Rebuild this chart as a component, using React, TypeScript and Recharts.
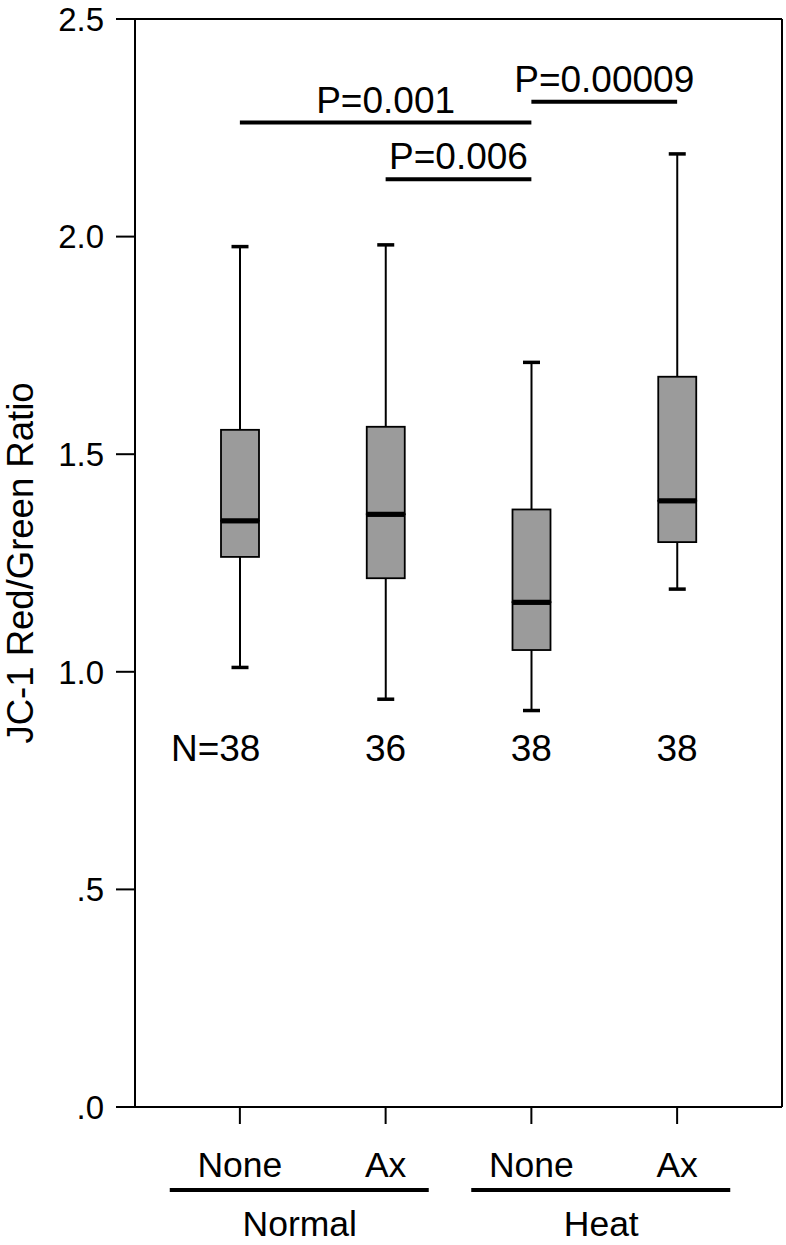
import React from 'react';
import { ComposedChart, Bar, XAxis, YAxis, ReferenceLine, ReferenceDot } from 'recharts';

const categories = ['Normal-None', 'Normal-Ax', 'Heat-None', 'Heat-Ax'];
const subLabels = ['None', 'Ax', 'None', 'Ax'];
const groups = ['Normal', 'Normal', 'Heat', 'Heat'];
const minVals = [1.01, 0.937, 0.911, 1.19];
const q1Vals = [1.264, 1.215, 1.05, 1.298];
const medVals = [1.347, 1.362, 1.16, 1.393];
const q3Vals = [1.556, 1.563, 1.373, 1.678];
const maxVals = [1.977, 1.981, 1.711, 2.19];
const nCounts = [38, 36, 38, 38];
const yTicks = [0, 0.5, 1, 1.5, 2, 2.5];
const pFrom = [0, 1, 2];
const pTo = [2, 2, 3];
const pLevels = [2.262, 2.132, 2.31];
const pLabels = ['P=0.001', 'P=0.006', 'P=0.00009'];
const nLabelLevel = 0.795;

const FONT = '"Liberation Sans", Arial, Helvetica, sans-serif';

const data = categories.map((name, i) => ({
  name,
  sub: subLabels[i],
  group: groups[i],
  base: minVals[i],
  lowW: q1Vals[i] - minVals[i],
  lowBox: medVals[i] - q1Vals[i],
  highBox: q3Vals[i] - medVals[i],
  highW: maxVals[i] - q3Vals[i],
}));

const Empty = () => null;

const LowWhisker = (p: any) => {
  const cx = p.x + p.width / 2;
  const bottom = p.y + p.height;
  return (
    <g>
      <line x1={cx} x2={cx} y1={p.y} y2={bottom} stroke="#000" strokeWidth={2} />
      <line x1={cx - 8.5} x2={cx + 8.5} y1={bottom} y2={bottom} stroke="#000" strokeWidth={3.5} />
    </g>
  );
};

const HighWhisker = (p: any) => {
  const cx = p.x + p.width / 2;
  return (
    <g>
      <line x1={cx} x2={cx} y1={p.y} y2={p.y + p.height} stroke="#000" strokeWidth={2} />
      <line x1={cx - 8.5} x2={cx + 8.5} y1={p.y} y2={p.y} stroke="#000" strokeWidth={3.5} />
    </g>
  );
};

const LowBox = (p: any) => (
  <g>
    <rect x={p.x} y={p.y} width={p.width} height={p.height} fill="#9b9b9b" stroke="#000" strokeWidth={1.8} />
    <line x1={p.x} x2={p.x + p.width} y1={p.y} y2={p.y} stroke="#000" strokeWidth={5} />
  </g>
);

const HighBox = (p: any) => (
  <g>
    <rect x={p.x} y={p.y} width={p.width} height={p.height} fill="#9b9b9b" stroke="#000" strokeWidth={1.8} />
    <line x1={p.x} x2={p.x + p.width} y1={p.y + p.height} y2={p.y + p.height} stroke="#000" strokeWidth={5} />
  </g>
);

const SubTick = (p: any) => {
  const i = categories.indexOf(p.payload.value);
  return (
    <text x={p.x} y={p.y + 53} textAnchor="middle" fontSize={35.5} fontFamily={FONT} fill="#000">
      {subLabels[i]}
    </text>
  );
};

const GroupTick = (p: any) => (
  <g>
    <line x1={p.x - 130} x2={p.x + 129} y1={p.y + 13} y2={p.y + 13} stroke="#000" strokeWidth={4} />
    <text x={p.x} y={p.y + 59} textAnchor="middle" fontSize={35.5} fontFamily={FONT} fill="#000">
      {p.payload.value}
    </text>
  </g>
);

const makePLabel = (text: string) => (props: any) => {
  const vb = props.viewBox || {};
  const x = (vb.x || 0) + (vb.width || 0) / 2;
  const y = Math.min(vb.y || 0, (vb.y || 0) + (vb.height || 0)) - 10;
  return (
    <text x={x} y={y} textAnchor="middle" fontSize={37} fontFamily={FONT} fill="#000">
      {text}
    </text>
  );
};

const fmtY = (v: number) => v.toFixed(1).replace(/^0/, '');

export default function App() {
  return (
    <div style={{ position: 'absolute', left: 0, top: 0, background: '#fff' }}>
      <ComposedChart
        width={786}
        height={1245}
        data={data}
        margin={{ top: 19, right: 0, bottom: 0, left: 0 }}
        barSize={38}
      >
        <XAxis
          dataKey="name"
          xAxisId={0}
          height={70}
          padding={{ left: 32, right: 32 }}
          tickSize={17}
          tickMargin={0}
          axisLine={{ stroke: '#000', strokeWidth: 2 }}
          tickLine={{ stroke: '#000', strokeWidth: 2 }}
          tick={<SubTick />}
          interval={0}
        />
        <XAxis
          dataKey="group"
          xAxisId="grp"
          allowDuplicatedCategory={false}
          height={68}
          padding={{ left: 14, right: 30 }}
          tickSize={0}
          tickMargin={0}
          axisLine={false}
          tickLine={false}
          tick={<GroupTick />}
          interval={0}
        />
        <YAxis
          yAxisId={0}
          width={135}
          domain={[0, 2.5]}
          ticks={yTicks}
          tickFormatter={fmtY}
          tickSize={19}
          tickMargin={12}
          axisLine={{ stroke: '#000', strokeWidth: 2 }}
          tickLine={{ stroke: '#000', strokeWidth: 2 }}
          tick={{ fill: '#000', fontSize: 33, fontFamily: FONT }}
          label={{
            value: 'JC-1 Red/Green Ratio',
            angle: -90,
            position: 'insideLeft',
            offset: 20,
            style: { fill: '#000', fontSize: 36.5, fontFamily: FONT, textAnchor: 'middle' },
          }}
        />
        <YAxis
          yAxisId="right"
          orientation="right"
          width={4}
          domain={[0, 2.5]}
          tick={false}
          tickLine={false}
          axisLine={{ stroke: '#000', strokeWidth: 2 }}
        />
        <ReferenceLine y={2.5} stroke="#000" strokeWidth={2} />
        <Bar dataKey="base" stackId="box" shape={<Empty />} isAnimationActive={false} />
        <Bar dataKey="lowW" stackId="box" shape={<LowWhisker />} isAnimationActive={false} />
        <Bar dataKey="lowBox" stackId="box" shape={<LowBox />} isAnimationActive={false} />
        <Bar dataKey="highBox" stackId="box" shape={<HighBox />} isAnimationActive={false} />
        <Bar dataKey="highW" stackId="box" shape={<HighWhisker />} isAnimationActive={false} />
        {pLabels.map((lab, i) => (
          <ReferenceLine
            key={lab}
            segment={[
              { x: categories[pFrom[i]], y: pLevels[i] },
              { x: categories[pTo[i]], y: pLevels[i] },
            ]}
            stroke="#000"
            strokeWidth={4}
            label={{ position: 'top', content: makePLabel(lab) }}
          />
        ))}
        {categories.map((c, i) => (
          <ReferenceDot
            key={c}
            x={c}
            y={nLabelLevel}
            r={1}
            shape={(p: any) => (
              <g>
                {i === 0 && (
                  <text x={p.cx - 20.5} y={p.cy} textAnchor="end" fontSize={37} fontFamily={FONT} fill="#000">
                    N=
                  </text>
                )}
                <text x={p.cx} y={p.cy} textAnchor="middle" fontSize={37} fontFamily={FONT} fill="#000">
                  {nCounts[i]}
                </text>
              </g>
            )}
          />
        ))}
      </ComposedChart>
    </div>
  );
}
